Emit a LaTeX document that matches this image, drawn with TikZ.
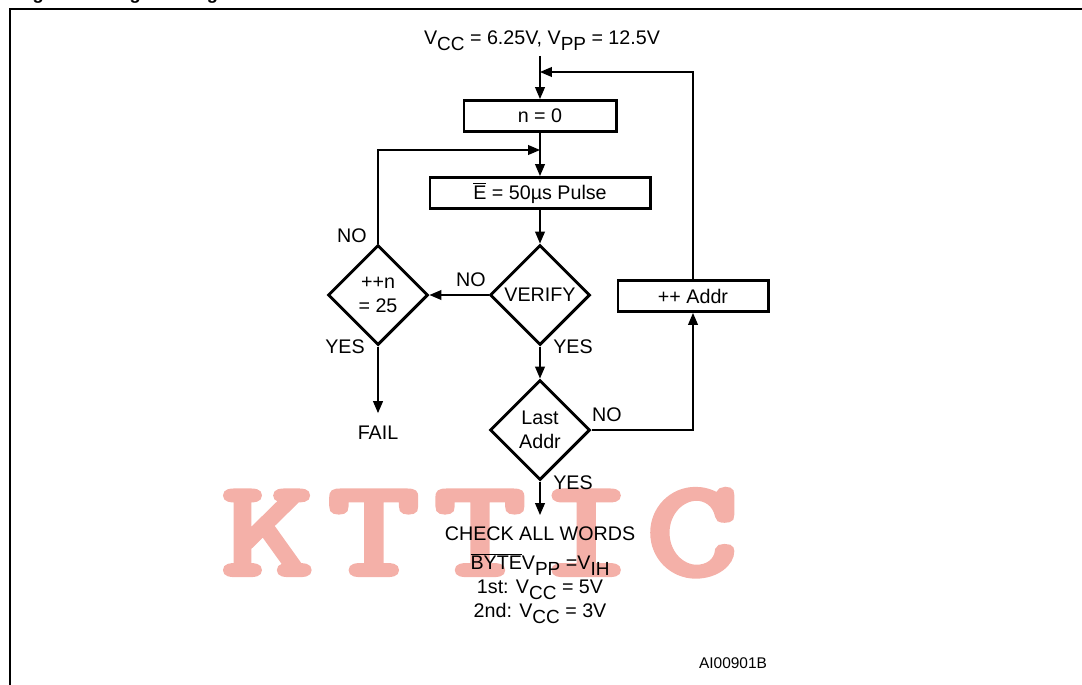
\documentclass[tikz,border=0pt]{standalone}
\usepackage{fontspec}
\setmainfont{Liberation Sans}
\newfontfamily\wmfont[FakeBold=4.5,LetterSpace=9]{Latin Modern Mono}
\usetikzlibrary{shapes.geometric,arrows.meta}

% lowered subscript as printed in the data sheet
\newcommand\lsub[1]{\raisebox{-0.3em}{\fontsize{13.5}{13.5}\selectfont #1}}
\newcommand\ovl[1]{$\overline{\mbox{#1}}$}
\definecolor{wmred}{RGB}{244,176,168}

\begin{document}
\begin{tikzpicture}[x=0.025cm,y=-0.025cm,
  every node/.style={font=\fontsize{14}{17}\selectfont},
  >={Triangle[length=8.5pt,width=7pt]},
  flow/.style={line width=1pt},
  pbox/.style={draw,line width=2.1pt,minimum height=0.775cm,inner sep=0pt},
  test/.style={draw,diamond,line width=2.1pt,aspect=1,minimum size=2.5cm,inner sep=0pt,align=center},
  lbl/.style={inner sep=0pt},
  wmark/.style={font=\wmfont\fontsize{96}{96}\selectfont,xscale=1.3,text=wmred,anchor=base,inner sep=0pt}]
\useasboundingbox (0,0) rectangle (1082,684);
\clip (0,0) rectangle (1082,684);
\node[font=\bfseries\fontsize{13}{13}\selectfont,anchor=base west,inner sep=0pt] (title) at (16,0) {Figure 7. Programming Flowchart};
\draw[line width=2.1pt] (10,720) |- (1100,9);
\node[wmark] (wm) at (480,574) {KTTIC};
\node (supply) at (542,41) {V\lsub{CC} = 6.25V, V\lsub{PP} = 12.5V};
\node[pbox,minimum width=3.8cm] (n0) at (540,116) {n = 0};
\node[pbox,minimum width=5.5cm] (pulse) at (540,193) {\ovl{E} = 50µs Pulse};
\node[test] (verify) at (540,295) {VERIFY};
\node[test] (inc) at (378,295) {++n\\= 25};
\node[test] (last) at (540,430) {Last\\Addr};
\node[pbox,minimum width=3.75cm] (addr) at (693,296) {++ Addr};
\node[outer ysep=6pt] (fail) at (378,433) {FAIL};
\node[anchor=north,align=center,inner ysep=8.5pt] (check) at (540,515)
  {CHECK ALL WORDS\\[3.5pt] \ovl{BYTE}V\lsub{PP} =V\lsub{IH}\\ 1st: V\lsub{CC} = 5V\\ 2nd: V\lsub{CC} = 3V};
\node[font=\fontsize{11}{13}\selectfont,anchor=base] (code) at (733,668) {AI00901B};
\coordinate (j1) at (540,72);
\coordinate (j2) at (540,150);
% connectors
\draw[flow,->] (supply.south -| n0) -- (n0);
\draw[flow,->] (addr) |- (j1);
\draw[flow,->] (n0) -- (pulse);
\draw[flow,->] (inc) |- (j2);
\draw[flow,->] (pulse) -- (verify);
\draw[flow,->] (verify) -- (inc);
\draw[flow,->] (inc) -- (fail);
\draw[flow,->] (verify) -- (last);
\draw[flow,->] (last) -| (addr);
\draw[flow,->] (last) -- (check);
% branch labels
\node[lbl] (noverify) at (471,280) {NO};
\node[lbl] (noinc) at (352,236) {NO};
\node[lbl] (yesinc) at (345,347) {YES};
\node[lbl] (yesverify) at (573,347) {YES};
\node[lbl] (nolast) at (607,415) {NO};
\node[lbl] (yeslast) at (573,483) {YES};
\end{tikzpicture}
\end{document}
